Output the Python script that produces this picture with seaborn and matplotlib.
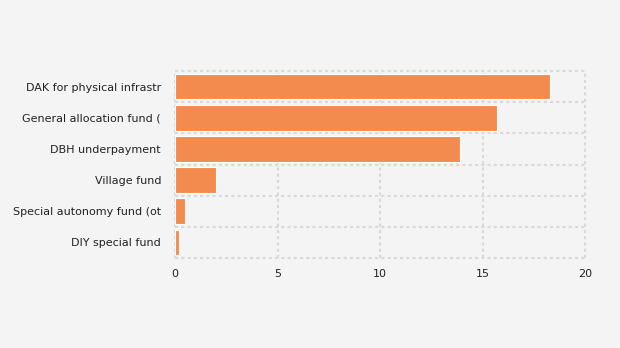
import matplotlib
matplotlib.use("Agg")
import matplotlib.pyplot as plt
import seaborn as sns
import pandas as pd

categories = ["DAK for physical infrastr", "General allocation fund (", "DBH underpayment",
              "Village fund", "Special autonomy fund (ot", "DIY special fund"]
values = [18.3, 15.7, 13.9, 2.0, 0.49, 0.2]
xticks = [0, 5, 10, 15, 20]

df = pd.DataFrame({"category": categories, "value": values})

sns.set_style("white")
plt.rcParams['font.family'] = ['DejaVu Sans']

fig = plt.figure(figsize=(6.2, 3.48), dpi=100)
fig.patch.set_facecolor("#F4F4F4")
ax = fig.add_axes([175/620, 1-258/348, 410/620, 187/348])
ax.set_facecolor("#F4F4F4")

sns.barplot(data=df, y="category", x="value", orient="h", color="#F38B4E",
            saturation=1, width=0.82, edgecolor="#FFFFFF", linewidth=0.8, ax=ax, zorder=3)

ax.set_xlim(0, 20)
ax.set_ylim(5.5, -0.5)
ax.set_xticks(xticks)
ax.set_xticklabels([str(t) for t in xticks])
for b in [i - 0.5 for i in range(7)]:
    ax.axhline(b, color="#D9D9D9", linestyle=(0, (1.5, 1.5)), linewidth=1.5, zorder=0, clip_on=False)
for t in xticks:
    ax.axvline(t, color="#D9D9D9", linestyle=(0, (1.5, 1.5)), linewidth=1.5, zorder=0, clip_on=False)
for s in ax.spines.values():
    s.set_visible(False)
ax.set_xlabel("")
ax.set_ylabel("")
ax.tick_params(axis="y", length=4, color="#D9D9D9", labelsize=8, labelcolor="#222222", pad=6)
ax.tick_params(axis="x", length=0, labelsize=8, labelcolor="#222222", pad=8)

fig.savefig("out.png", dpi=100, facecolor=fig.get_facecolor())
